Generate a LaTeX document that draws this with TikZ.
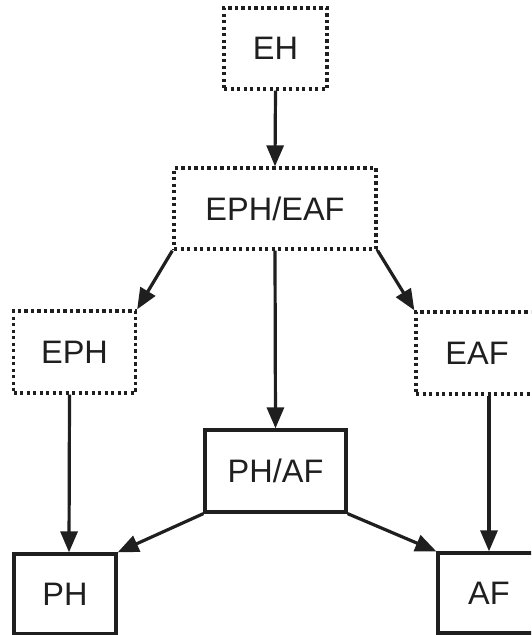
\documentclass[tikz,border=0pt]{standalone}
\usepackage{fontspec}
\setmainfont{Liberation Sans}
\usetikzlibrary{arrows.meta}
\begin{document}
\begin{tikzpicture}[x=1pt,y=-1pt,
  box/.style={draw=black!88, line width=3.3pt, rectangle, inner sep=0pt, font=\fontsize{32.5}{36}\selectfont, text=black!88},
  dotbox/.style={box, dash pattern=on 3.2pt off 3.3pt},
  arr/.style={line width=3.2pt, draw=black!88, -{Triangle[length=21pt,width=17pt]}}]
\clip (0,0) rectangle (531,635);
\useasboundingbox (0,0) rectangle (531,635);
\node[dotbox, minimum width=103pt, minimum height=81pt] (EH) at (275.5,48.5) {EH};
\node[dotbox, minimum width=202pt, minimum height=81pt] (EPHEAF) at (275,208.5) {EPH/EAF};
\node[dotbox, minimum width=122pt, minimum height=82pt] (EPH) at (74.5,352) {EPH};
\node[dotbox, minimum width=122pt, minimum height=82pt] (EAF) at (477,353) {EAF};
\node[box, minimum width=141pt, minimum height=82pt] (PHAF) at (275.5,471) {PH/AF};
\node[box, minimum width=102pt, minimum height=80pt] (PH) at (65,594) {PH};
\node[box, minimum width=102pt, minimum height=80pt] (AF) at (489,593) {AF};
\draw[arr] (EH.south) -- (EPHEAF.north);
\draw[arr] (EPHEAF.south west) -- (EPH.north east);
\draw[arr] (EPHEAF.south east) -- (EAF.north west);
\draw[arr] (EPHEAF.south) -- (PHAF.north);
\draw[arr] ([xshift=-5pt]EPH.south) -- ([xshift=4pt]PH.north);
\draw[arr] (EAF.south -| AF.north) -- (AF.north);
\draw[arr] (PHAF.south west) -- (PH.north east);
\draw[arr] (PHAF.south east) -- (AF.north west);
\end{tikzpicture}
\end{document}
